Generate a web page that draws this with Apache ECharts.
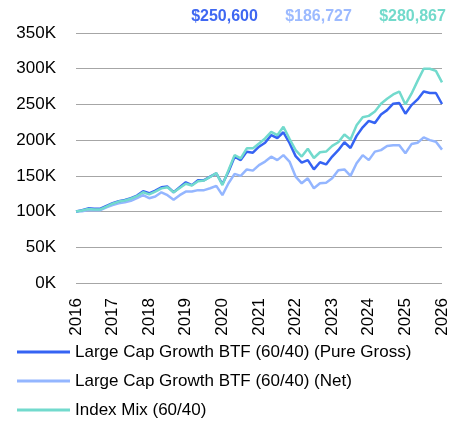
<!DOCTYPE html>
<html>
<head>
<meta charset="utf-8">
<script src="https://cdn.jsdelivr.net/npm/echarts@6/dist/echarts.min.js"></script>
<style>
  html, body { margin: 0; padding: 0; background: #fff; }
  #chart { width: 462px; height: 422px; }
</style>
</head>
<body>
<div id="chart"></div>
<script>
// growth of $100K, one point every two months, values in thousands
var years = ['2016', '2017', '2018', '2019', '2020', '2021', '2022', '2023', '2024', '2025', '2026'];
var seriesNames = [
  'Large Cap Growth BTF (60/40) (Pure Gross)',
  'Large Cap Growth BTF (60/40) (Net)',
  'Index Mix (60/40)'
];
var grossValues = [
  100, 102, 104.5, 104, 104, 108, 111.7, 114.5, 116.3, 118.7, 122.4, 128.4,
  125.6, 129.4, 134, 135, 127, 134, 141, 137, 144, 144, 148.8, 153.5,
  138.6, 155.8, 176.8, 172, 183.9, 182.5, 190.8, 196.4, 207, 203, 211, 196,
  177.6, 168.4, 172, 159, 169, 166, 177, 186, 197, 189, 206, 218,
  227, 224, 236, 242, 251, 252, 237, 249, 257, 268, 266, 266, 250.6
];
var netValues = [
  100, 100.5, 102, 102, 102, 106, 109, 111.7, 113, 115, 118.7, 123,
  118.7, 121, 127, 123, 116.5, 123, 128, 128, 130, 130, 132.6, 136,
  123, 139.6, 152.7, 150, 159, 157.3, 165, 170, 176.8, 172, 179, 170,
  149, 139.6, 146.6, 132.6, 139.6, 140.5, 146.6, 158, 159, 150, 167.6, 179,
  172, 183.9, 186, 191.7, 193, 193, 181.6, 194.5, 196.4, 203.8, 200, 197.8, 186.727
];
var indexValues = [
  100, 101.5, 103.5, 103, 103, 107, 111, 114, 115.5, 118, 121.5, 127,
  124, 128, 132.5, 134, 127, 133, 139, 136.5, 142.5, 143.5, 148.5, 154,
  137, 158, 179, 174.6, 188.5, 188.5, 195.4, 202.4, 211.7, 207, 218.7, 202,
  186, 177, 188, 175, 183, 184, 192, 197, 208, 201, 221, 232,
  234, 240, 251, 258, 264, 268, 250, 265, 283, 300, 300, 297, 280.867
];
var finalValues = [250600, 186727, 280867];
var colors = ['#3563f3', '#94b6ff', '#72dacd'];
var labelColors = ['#3f68f2', '#9cbaff', '#72dacb'];

var categories = [];
for (var i = 0; i < grossValues.length; i++) {
  categories.push(i % 6 === 0 ? years[i / 6] : '');
}

var font = '"Liberation Sans", Arial, sans-serif';

var myChart = echarts.init(document.getElementById('chart'));

// final values printed above the plot
var valueLabels = finalValues.map(function (v, k) {
  return {
    type: 'text',
    x: [224.5, 318.5, 412.5][k],
    y: 17,
    style: {
      text: '$' + v.toLocaleString('en-US'),
      fill: labelColors[k],
      font: 'bold 16px ' + font,
      align: 'center',
      verticalAlign: 'middle'
    }
  };
});

var option = {
  animation: false,
  color: colors,
  grid: { left: 76, right: 20, top: 33, bottom: 139 },
  graphic: valueLabels,
  legend: {
    orient: 'vertical',
    left: 17,
    top: 342,
    height: 120,
    padding: 0,
    icon: 'rect',
    itemWidth: 53,
    itemHeight: 3,
    itemGap: 9,
    textStyle: { fontFamily: font, fontSize: 17, color: '#000', lineHeight: 20 },
    data: seriesNames
  },
  xAxis: {
    type: 'category',
    boundaryGap: false,
    data: categories,
    axisLine: { show: false },
    axisTick: { show: false },
    axisLabel: {
      interval: 5,
      rotate: 90,
      margin: 15,
      fontFamily: font,
      fontSize: 17,
      color: '#000'
    }
  },
  yAxis: {
    type: 'value',
    min: 0,
    max: 350,
    interval: 50,
    axisLine: { show: false },
    axisTick: { show: false },
    splitLine: { lineStyle: { color: '#a6a6a6', width: 1 } },
    axisLabel: {
      margin: 20,
      fontFamily: font,
      fontSize: 17,
      color: '#000',
      formatter: function (v) { return v + 'K'; }
    }
  },
  series: [
    { name: seriesNames[0], type: 'line', data: grossValues, showSymbol: false, lineStyle: { width: 2.5 }, z: 3 },
    { name: seriesNames[1], type: 'line', data: netValues, showSymbol: false, lineStyle: { width: 2.5 }, z: 2 },
    { name: seriesNames[2], type: 'line', data: indexValues, showSymbol: false, lineStyle: { width: 2.5 }, z: 4 }
  ]
};

myChart.setOption(option);
</script>
</body>
</html>
